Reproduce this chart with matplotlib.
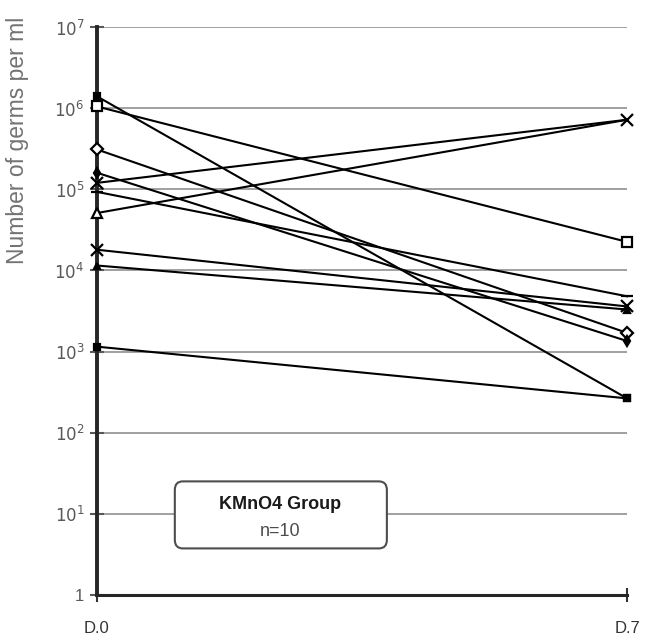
import numpy as np
import matplotlib
matplotlib.use("Agg")
import matplotlib.pyplot as plt
from matplotlib.patches import FancyBboxPatch

# germ counts per ml at day 0 and day 7, one entry per patient
days = [0, 7]
day_labels = ["D.0", "D.7"]
d0 = [1.4e6, 1.05e6, 3.1e5, 1.6e5, 1.2e5, 9.3e4, 5.1e4, 1.8e4, 1.15e4, 1.15e3]
d7 = [265, 2.25e4, 1.7e3, 1.35e3, 7.2e5, 4.8e3, 7.2e5, 3.6e3, 3.3e3, 265]
markers = ["s", "s", "D", "d", "x", "_", "^", "x", "^", "s"]
filled = [True, False, False, True, True, True, False, True, True, True]
msizes = [4, 7, 6, 5, 9, 8, 7, 9, 4, 4]
decades = [1, 1e1, 1e2, 1e3, 1e4, 1e5, 1e6, 1e7]
dec_labels = ["1"] + [rf"$10^{{{k}}}$" for k in range(1, 8)]

plt.rcParams.update({"font.family": ["Liberation Sans", "DejaVu Sans"]})
fig = plt.figure(figsize=(6.46, 6.36), dpi=100)
ax = fig.add_axes([0.150, 0.0645, 0.8206, 0.893])

for v in decades[1:]:
    ax.axhline(v, color="0.6", lw=1.3, zorder=1)

for i, (a, b, m, f, ms) in enumerate(zip(d0, d7, markers, filled, msizes)):
    # the open triangle's day-7 point sits under the asterisk
    every = [0] if m == "^" and not f else None
    ax.plot(days, [a, b], color="black", lw=1.5, marker=m, ms=ms, markevery=every,
            mfc="black" if f else "white", mec="black", mew=1.6,
            clip_on=False, zorder=3)

ax.set_yscale("log")
ax.set_ylim(1, 1e7)
ax.set_xlim(0, 7)
ax.set_yticks(decades)
ax.set_yticklabels(dec_labels)
ax.minorticks_off()
ax.set_xticks(days)
ax.set_xticklabels(day_labels)
ax.tick_params(axis="y", direction="inout", length=10, width=1.5, colors="0.35",
               labelsize=12, pad=4)
ax.tick_params(axis="x", direction="inout", length=10, width=1.5, colors="0.2",
               labelsize=12, pad=14)
for s in ("top", "right"):
    ax.spines[s].set_visible(False)
ax.spines["left"].set_linewidth(2.8)
ax.spines["bottom"].set_linewidth(2.2)
ax.spines["left"].set_color("0.15")
ax.spines["bottom"].set_color("0.15")

# group label box
box = FancyBboxPatch((0.147, 0.082), 0.40, 0.118, boxstyle="round,pad=0,rounding_size=0.015",
                     transform=ax.transAxes, fc="white", ec="0.3", lw=1.5, zorder=4)
ax.add_patch(box)
ax.text(0.346, 0.16, "KMnO4 Group", transform=ax.transAxes, ha="center", va="center",
        fontsize=13, fontweight="bold", color="0.1", zorder=5)
ax.text(0.346, 0.111, "n=10", transform=ax.transAxes, ha="center", va="center",
        fontsize=13, color="0.3", zorder=5)

fig.text(18 / 646, 1 - 140 / 636, "Number of germs per ml", rotation=90,
         ha="center", va="center", fontsize=16.5, color="0.45")

fig.savefig("out.png", dpi=100)
